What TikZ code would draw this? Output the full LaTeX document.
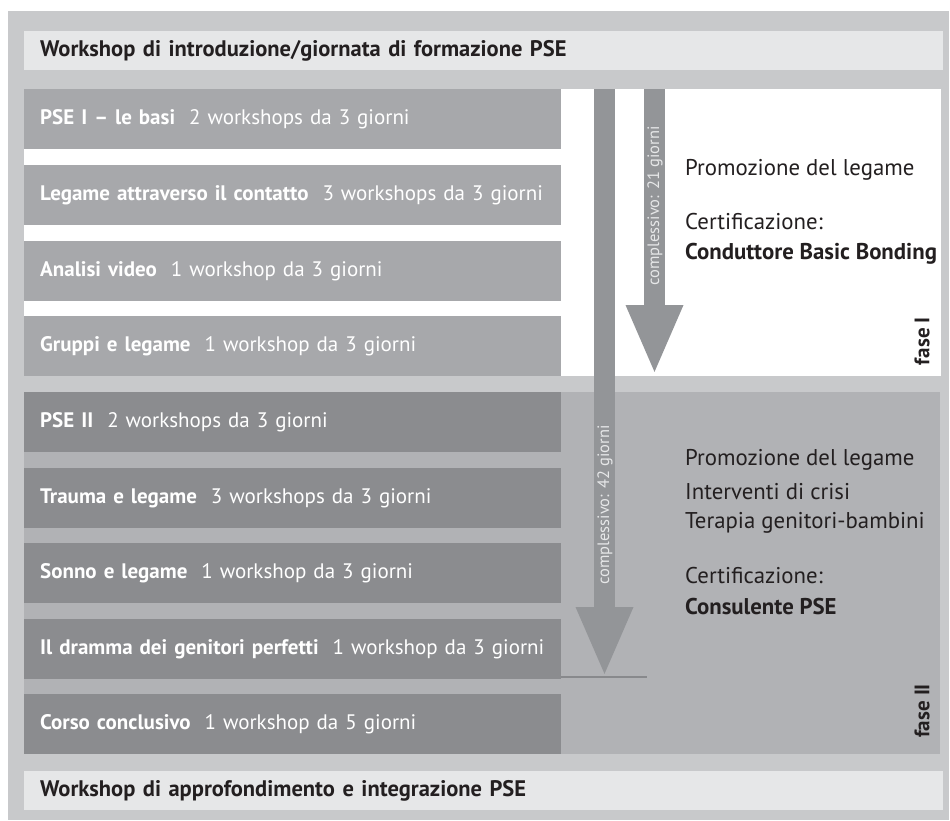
\documentclass[tikz,border=0pt]{standalone}
\usepackage{fontspec}
\setmainfont{PT Sans}
\usetikzlibrary{arrows.meta,positioning}
\definecolor{bggray}{HTML}{C8C9CB}
\definecolor{barlight}{HTML}{E6E7E8}
\definecolor{rowone}{HTML}{A7A8AB}
\definecolor{rowtwo}{HTML}{8B8C8F}
\definecolor{paneltwo}{HTML}{B1B2B5}
\definecolor{arrowgray}{HTML}{939598}
\definecolor{linegray}{HTML}{88898C}
\definecolor{inkblack}{HTML}{231F20}

\begin{document}
\begin{tikzpicture}[x=1pt,y=-1pt,
	row/.style={anchor=north west,minimum width=537pt,minimum height=60pt,
		text width=505pt,inner xsep=16pt,inner ysep=0pt,align=left,
		font=\fontsize{21}{24}\selectfont,text=white},
	bar/.style={anchor=north west,fill=barlight,minimum width=919pt,minimum height=39pt,
		text width=887pt,inner xsep=16pt,inner ysep=0pt,align=left,
		font=\fontsize{22.5}{24}\selectfont\bfseries,text=inkblack},
	goal/.style={anchor=west,inner sep=0pt,font=\fontsize{22.8}{24}\selectfont,text=inkblack},
	fase/.style={rotate=90,inner sep=0pt,font=\fontsize{21}{24}\selectfont\bfseries,text=inkblack},
	shaft/.style={rotate=90,inner sep=0pt,font=\fontsize{16.5}{20}\selectfont,text=barlight},
	bigarrow/.style={arrowgray,line width=21pt,-{Triangle[width=52pt,length=70pt]}}]

	\useasboundingbox (0,0) rectangle (950,820);
	\fill[bggray] (8,11) rectangle (949,820);

	\node[bar] (intro) at (24,31) {Workshop di introduzione/giornata di formazione PSE};
	\node[bar] (extra) at (24,771) {Workshop di approfondimento e integrazione PSE};

	% fase I
	\fill[white] (24,89) rectangle (941,376);
	\foreach \y/\n/\b/\t in {89/r1/{PSE I – le basi}/{2 workshops da 3 giorni},
		165/r2/{Legame attraverso il contatto}/{3 workshops da 3 giorni},
		241/r3/{Analisi video}/{1 workshop da 3 giorni},
		316/r4/{Gruppi e legame}/{1 workshop da 3 giorni}}
		\node[row,fill=rowone] (\n) at (24,\y) {\textbf{\b}\ \ \t};

	% fase II
	\fill[paneltwo] (24,392) rectangle (940,754);
	\foreach \y/\n/\b/\t in {392/r5/{PSE II}/{2 workshops da 3 giorni},
		468/r6/{Trauma e legame}/{3 workshops da 3 giorni},
		543/r7/{Sonno e legame}/{1 workshop da 3 giorni},
		619/r8/{Il dramma dei genitori perfetti}/{1 workshop da 3 giorni},
		694/r9/{Corso conclusivo}/{1 workshop da 5 giorni}}
		\node[row,fill=rowtwo] (\n) at (24,\y) {\textbf{\b}\ \ \t};

	\coordinate (endl) at (561,677);
	\coordinate (endr) at (647,677);
	\draw[linegray,line width=2pt] (endl) -- (endr);

	\coordinate (a1s) at (604.5,89);
	\coordinate (a1e) at (604.5,677);
	\coordinate (a2s) at (654.5,89);
	\coordinate (a2e) at (654.5,375);
	\draw[bigarrow] (a1s) -- (a1e);
	\draw[bigarrow] (a2s) -- (a2e);
	\node[shaft] (tot1) at (605,505) {complessivo: 42 giorni};
	\node[shaft] (tot2) at (655,206) {complessivo: 21 giorni};

	\node[goal] (g1) at (685,170) {Promozione del legame};
	\node[goal] (g2) at (685,222) {Certificazione:};
	\node[goal] (g3) at (685,254) {\textbf{Conduttore Basic Bonding}};
	\node[fase] (f1) at (922,341) {fase I};

	\node[goal] (h1) at (685,460) {Promozione del legame};
	\node[goal] (h2) at (685,492) {Interventi di crisi};
	\node[goal] (h3) at (685,523) {Terapia genitori-bambini};
	\node[goal] (h4) at (685,576) {Certificazione:};
	\node[goal] (h5) at (685,607) {\textbf{Consulente PSE}};
	\node[fase] (f2) at (922,711) {fase II};

\end{tikzpicture}
\end{document}
